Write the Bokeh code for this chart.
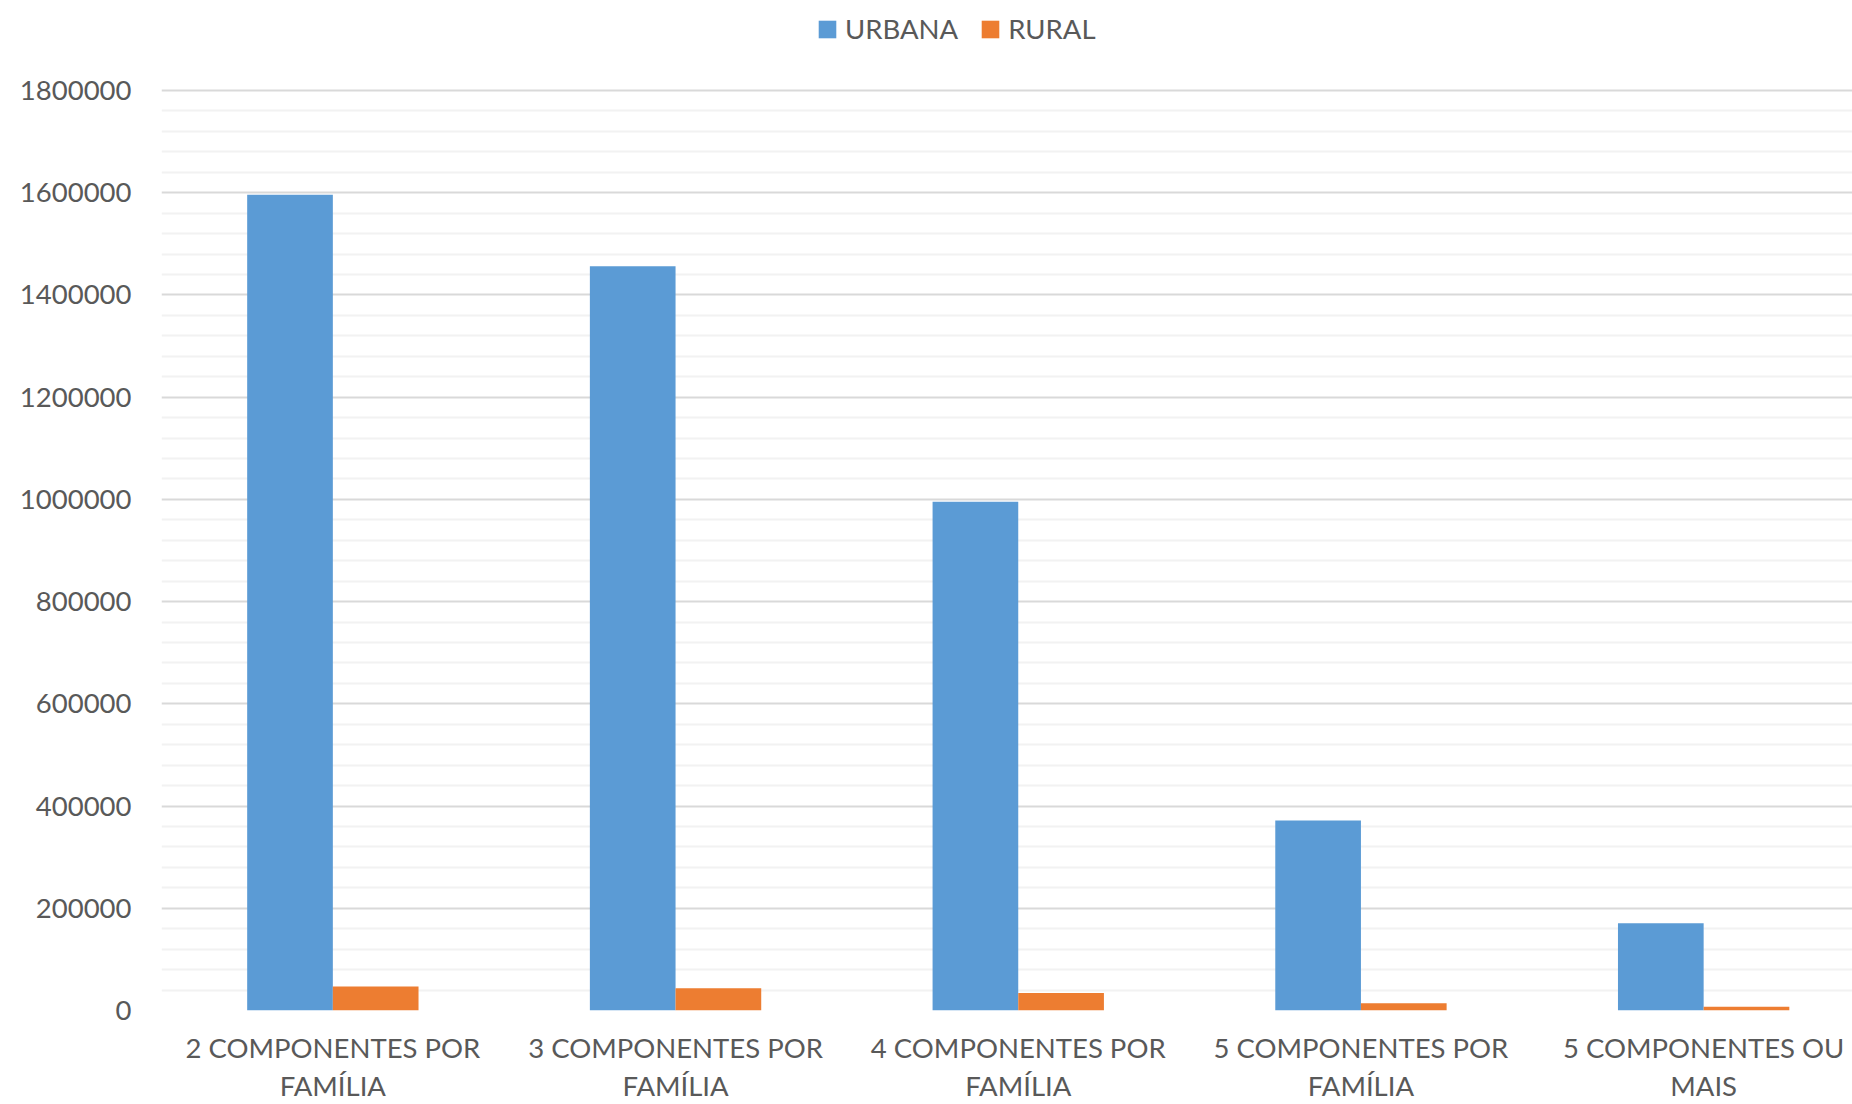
from bokeh.plotting import figure
from bokeh.models import (ColumnDataSource, FixedTicker, Range1d, Legend, LegendItem,
                          NumeralTickFormatter)
from bokeh.embed import file_html
from bokeh.resources import INLINE

# Households by number of members, urban vs rural
categories = [
    "2 COMPONENTES POR FAMÍLIA",
    "3 COMPONENTES POR FAMÍLIA",
    "4 COMPONENTES POR FAMÍLIA",
    "5 COMPONENTES POR FAMÍLIA",
    "5 COMPONENTES OU MAIS",
]
tick_labels = [
    "2 COMPONENTES POR\nFAMÍLIA",
    "3 COMPONENTES POR\nFAMÍLIA",
    "4 COMPONENTES POR\nFAMÍLIA",
    "5 COMPONENTES POR\nFAMÍLIA",
    "5 COMPONENTES OU\nMAIS",
]
urbana = [1596000, 1456000, 995500, 371500, 170500]
rural = [47000, 43300, 34000, 14400, 7200]

y_ticks = [0, 200000, 400000, 600000, 800000, 1000000, 1200000, 1400000, 1600000, 1800000]
y_minor_step = 40000
y_max = 1800000

# canvas geometry (px)
W, H = 1852, 1104
LEFT, BOTTOM = 161, 94
TOP_GRID = 90            # pixel row of the highest gridline
CAT_PX = 342.7           # width of one category slot

frame_w = W - LEFT
frame_h = H - BOTTOM
x_end = -0.5 + frame_w / CAT_PX
y_end = y_max * frame_h / (frame_h - TOP_GRID)

TEXT = "#595959"
FONT = "Lato"
FSIZE = "27.5px"

idx = list(range(len(categories)))
src = ColumnDataSource(dict(
    cat=categories,
    x_urb=[i - 0.125 for i in idx],
    x_rur=[i + 0.125 for i in idx],
    urbana=urbana,
    rural=rural,
))

p = figure(width=W, height=H, output_backend="svg", toolbar_location=None,
           x_range=Range1d(-0.5, x_end), y_range=Range1d(0, y_end),
           min_border_left=LEFT, min_border_right=0, min_border_top=0,
           min_border_bottom=BOTTOM)
p.outline_line_color = None
p.background_fill_color = "white"
p.border_fill_color = "white"

r_urb = p.vbar(x="x_urb", top="urbana", width=0.25, source=src,
               fill_color="#5b9bd5", line_color=None)
r_rur = p.vbar(x="x_rur", top="rural", width=0.25, source=src,
               fill_color="#ed7d31", line_color=None)

# horizontal gridlines, major every 200000 and minor every 40000
minor = [v for v in range(0, y_max + 1, y_minor_step) if v not in y_ticks]
p.ygrid.ticker = FixedTicker(ticks=y_ticks, minor_ticks=minor)
p.ygrid.grid_line_color = "#d9d9d9"
p.ygrid.grid_line_width = 2
p.ygrid.minor_grid_line_color = "#f2f2f2"
p.ygrid.minor_grid_line_width = 2
p.xgrid.visible = False

yax = p.yaxis[0]
yax.ticker = FixedTicker(ticks=y_ticks)
yax.formatter = NumeralTickFormatter(format="0")
yax.axis_line_color = None
yax.major_tick_line_color = None
yax.minor_tick_line_color = None
yax.major_label_standoff = 24
yax.major_label_text_font = FONT
yax.major_label_text_font_size = FSIZE
yax.major_label_text_color = TEXT

xax = p.xaxis[0]
xax.ticker = FixedTicker(ticks=idx)
xax.major_label_overrides = {i: lab for i, lab in zip(idx, tick_labels)}
xax.axis_line_color = None
xax.major_tick_line_color = None
xax.minor_tick_line_color = None
xax.major_label_standoff = 14
xax.major_label_text_font = FONT
xax.major_label_text_font_size = FSIZE
xax.major_label_text_color = TEXT
xax.major_label_text_line_height = 1.16

legend = Legend(items=[LegendItem(label="URBANA", renderers=[r_urb]),
                       LegendItem(label="RURAL", renderers=[r_rur])],
                orientation="horizontal", location=(655, frame_h - 45),
                border_line_color=None, background_fill_alpha=0,
                label_text_font=FONT, label_text_font_size=FSIZE,
                label_text_color=TEXT, glyph_width=22, glyph_height=22,
                label_standoff=7, spacing=21, padding=0, margin=0)
p.add_layout(legend)

open("out.html", "w").write(file_html(p, INLINE))
